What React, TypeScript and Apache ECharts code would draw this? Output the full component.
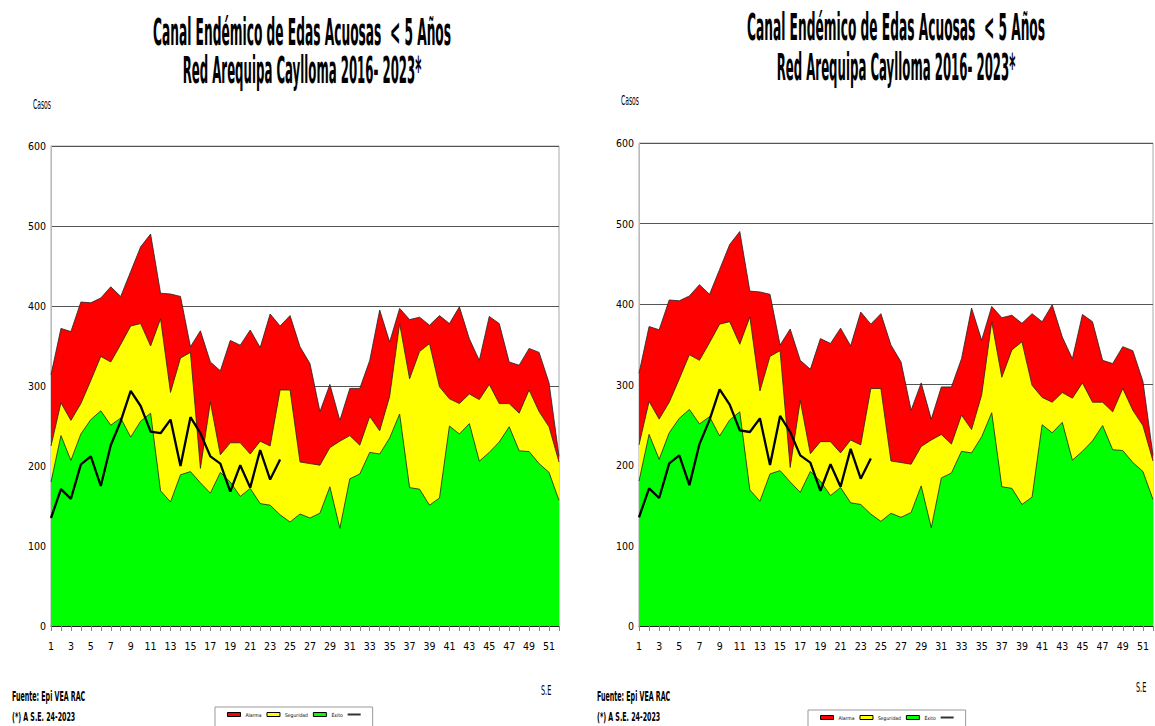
import React, { useEffect, useRef } from 'react';
import * as echarts from 'echarts';

const weeks = ['1','2','3','4','5','6','7','8','9','10','11','12','13','14','15','16','17','18','19','20','21','22','23','24','25','26','27','28','29','30','31','32','33','34','35','36','37','38','39','40','41','42','43','44','45','46','47','48','49','50','51','52'];

const alarma = [314, 372, 368, 405, 404, 410, 424, 412, 443, 474, 490, 416, 415, 412, 349, 369, 330, 319, 357, 351, 370, 348, 390, 375, 388, 349, 328, 268, 302, 257, 297, 297, 332, 395, 355, 397, 383, 386, 376, 388, 378, 399, 359, 332, 387, 378, 330, 326, 347, 342, 304, 212];
const seguridad = [225, 279, 257, 278, 307, 337, 330, 352, 375, 378, 350, 384, 292, 335, 342, 197, 280, 214, 229, 229, 215, 231, 225, 295, 295, 205, 203, 201, 223, 231, 238, 226, 262, 244, 287, 378, 309, 343, 353, 299, 284, 278, 290, 283, 302, 278, 278, 266, 295, 268, 249, 205];
const exito = [180, 238, 207, 240, 258, 269, 251, 260, 236, 256, 266, 169, 155, 189, 193, 179, 166, 192, 180, 162, 172, 153, 151, 139, 130, 140, 135, 141, 174, 122, 184, 190, 217, 215, 235, 265, 173, 171, 151, 160, 250, 240, 253, 206, 217, 230, 249, 219, 218, 203, 192, 157];
const casos2023 = [135, 171, 159, 202, 212, 175, 226, 256, 294, 275, 243, 241, 258, 200, 261, 241, 212, 203, 168, 201, 173, 220, 183, 208];

const yMin = 0;
const yMax = 600;
const yStep = 100;

const titleLine1 = 'Canal Endémico de Edas Acuosas  < 5 Años';
const titleLine2 = 'Red Arequipa Caylloma 2016- 2023*';
const fuente = 'Fuente: Epi VEA RAC';
const nota = '(*) A S.E. 24-2023';
const yName = 'Casos';
const xName = 'S.E';
const lineName = '2023';

const FONT = "'Liberation Sans Narrow', 'Arial Narrow', 'DejaVu Sans Condensed', sans-serif";

const panels = [
  { left: 51, top: 146, width: 508, height: 480, tx: 302, t1: 32, t2: 70, foot: 12, f1: 697, f2: 716, casosX: 33, casosY: 105, seX: 541, seY: 690, legL: 215, legT: 707 },
  { left: 639, top: 143, width: 514, height: 483, tx: 896, t1: 27, t2: 67, foot: 597, f1: 697, f2: 716, casosX: 621, casosY: 101, seX: 1136, seY: 687, legL: 808, legT: 710 },
];

function txt(text: string, x: number, y: number, size: number, bold: boolean, align: string, sx: number, sy: number) {
  return {
    type: 'text',
    x,
    y,
    scaleX: sx,
    scaleY: sy,
    silent: true,
    style: {
      text,
      fontFamily: FONT,
      fontSize: size,
      fontWeight: bold ? 'bold' : 'normal',
      fill: '#000',
      align,
      textAlign: align,
      verticalAlign: 'middle',
      textVerticalAlign: 'middle',
    },
  };
}

export default function App() {
  const ref = useRef<HTMLDivElement>(null);
  useEffect(() => {
    if (!ref.current) return;
    const chart = echarts.init(ref.current, null, { renderer: 'svg' });
    const grid: any[] = [];
    const xAxis: any[] = [];
    const yAxis: any[] = [];
    const series: any[] = [];
    const legend: any[] = [];
    const graphic: any[] = [];
    panels.forEach((p, g) => {
      grid.push({ left: p.left, top: p.top, width: p.width, height: p.height, show: true, borderColor: '#aaa', borderWidth: 1, backgroundColor: 'transparent' });
      xAxis.push({
        type: 'category', gridIndex: g, data: weeks, boundaryGap: false,
        axisLine: { show: true, lineStyle: { color: '#222', width: 1 } },
        axisTick: { show: true, interval: 0, length: 5, lineStyle: { color: '#888' } },
        axisLabel: { interval: 1, margin: 14, fontSize: 10.5, fontFamily: FONT, color: '#000' },
        splitLine: { show: false },
      });
      yAxis.push({
        type: 'value', gridIndex: g, min: yMin, max: yMax, interval: yStep,
        axisLine: { show: true, lineStyle: { color: '#bbb' } },
        axisTick: { show: false },
        axisLabel: { margin: 5, fontSize: 10.5, fontFamily: FONT, color: '#000' },
        splitLine: { show: true, lineStyle: { color: '#555', width: 1 } },
      });
      const base = { type: 'line', xAxisIndex: g, yAxisIndex: g, symbol: 'none', silent: true };
      series.push({ ...base, name: 'Alarma', data: alarma, z: 2, lineStyle: { color: '#222', width: 0.8 }, itemStyle: { color: '#ff0000' }, areaStyle: { color: '#ff0000', opacity: 1 } });
      series.push({ ...base, name: 'Seguridad', data: seguridad, z: 3, lineStyle: { color: '#222', width: 0.8 }, itemStyle: { color: '#ffff00' }, areaStyle: { color: '#ffff00', opacity: 1 } });
      series.push({ ...base, name: 'Éxito', data: exito, z: 4, lineStyle: { color: '#222', width: 0.8 }, itemStyle: { color: '#00ff00' }, areaStyle: { color: '#00ff00', opacity: 1 } });
      series.push({ ...base, name: lineName, data: casos2023, z: 5, lineStyle: { color: '#000', width: 2.3 }, itemStyle: { color: '#000' } });
      legend.push({
        left: p.legL, top: p.legT, orient: 'horizontal', selectedMode: false,
        itemWidth: 13, itemHeight: 4, itemGap: 5,
        padding: [5, 12, 14, 12], borderColor: '#999', borderWidth: 1, backgroundColor: '#fff',
        textStyle: { fontSize: 5, fontFamily: FONT, color: '#000' },
        formatter: (n: string) => (n === lineName ? '' : n),
        data: [
          { name: 'Alarma', icon: 'rect', itemStyle: { color: '#ff0000', borderColor: '#000', borderWidth: 1 } },
          { name: 'Seguridad', icon: 'rect', itemStyle: { color: '#ffff00', borderColor: '#000', borderWidth: 1 } },
          { name: 'Éxito', icon: 'rect', itemStyle: { color: '#00ff00', borderColor: '#000', borderWidth: 1 } },
          { name: lineName, icon: 'path://M0,0h13v2H0z', itemStyle: { color: '#333' } },
        ],
      });
      graphic.push(txt(titleLine1, p.tx, p.t1, 17, true, 'center', 0.8, 2.2));
      graphic.push(txt(titleLine2, p.tx, p.t2, 17, true, 'center', 0.77, 2.2));
      graphic.push(txt(fuente, p.foot, p.f1, 7.4, true, 'left', 0.95, 1.85));
      graphic.push(txt(nota, p.foot, p.f2, 7.4, true, 'left', 0.95, 1.75));
      graphic.push(txt(yName, p.casosX, p.casosY, 7.5, false, 'left', 0.9, 1.8));
      graphic.push(txt(xName, p.seX, p.seY, 8, false, 'left', 0.9, 1.8));
    });
    chart.setOption({
      animation: false,
      backgroundColor: '#fff',
      grid, xAxis, yAxis, series, legend, graphic,
    });
    return () => chart.dispose();
  }, []);
  return <div ref={ref} style={{ position: 'fixed', left: 0, top: 0, width: 1155, height: 726, background: '#fff' }} />;
}
